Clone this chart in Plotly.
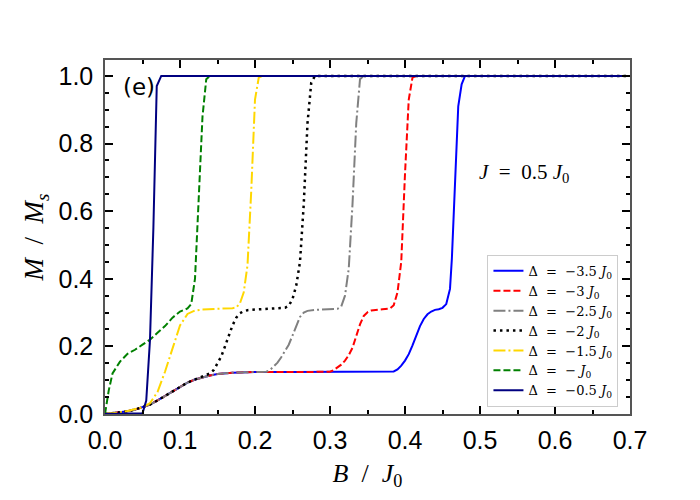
import plotly.graph_objects as go

# magnetisation curves M/Ms versus B/J0, one per anisotropy value (J = 0.5 J0)
b_m35 = [0, 0.01, 0.02, 0.03, 0.04, 0.05, 0.06, 0.07, 0.08, 0.09, 0.10, 0.11, 0.12,
         0.13, 0.14, 0.15, 0.16, 0.17, 0.18, 0.20, 0.25, 0.30, 0.35, 0.38, 0.385, 0.39,
         0.395, 0.40, 0.405, 0.41, 0.415, 0.42, 0.425, 0.43, 0.435, 0.44, 0.445, 0.45,
         0.455, 0.46, 0.4625, 0.467, 0.471, 0.4755, 0.48, 0.70]
m_m35 = [0, 0.002, 0.004, 0.008, 0.013, 0.020, 0.028, 0.040, 0.053, 0.067, 0.081, 0.093,
         0.102, 0.109, 0.114, 0.118, 0.121, 0.122, 0.123, 0.124, 0.124, 0.124, 0.124,
         0.124, 0.126, 0.132, 0.143, 0.158, 0.177, 0.203, 0.232, 0.260, 0.281, 0.295,
         0.303, 0.308, 0.310, 0.314, 0.325, 0.370, 0.460, 0.720, 0.910, 0.975, 1.0, 1.0]

b_m3 = [0, 0.01, 0.02, 0.03, 0.04, 0.05, 0.06, 0.07, 0.08, 0.09, 0.10, 0.11, 0.12, 0.13,
        0.14, 0.15, 0.16, 0.17, 0.18, 0.20, 0.25, 0.29, 0.30, 0.305, 0.31, 0.315, 0.32,
        0.325, 0.33, 0.335, 0.34, 0.345, 0.35, 0.355, 0.36, 0.37, 0.38, 0.385, 0.39,
        0.395, 0.40, 0.405, 0.41, 0.415, 0.70]
m_m3 = [0, 0.002, 0.004, 0.008, 0.013, 0.020, 0.028, 0.040, 0.053, 0.067, 0.081, 0.093,
        0.102, 0.109, 0.114, 0.118, 0.121, 0.122, 0.123, 0.124, 0.124, 0.124, 0.125,
        0.130, 0.137, 0.146, 0.158, 0.174, 0.196, 0.228, 0.265, 0.290, 0.301, 0.306,
        0.308, 0.310, 0.312, 0.322, 0.360, 0.450, 0.710, 0.930, 0.995, 1.0, 1.0]

b_m25 = [0, 0.01, 0.02, 0.03, 0.04, 0.05, 0.06, 0.07, 0.08, 0.09, 0.10, 0.11, 0.12, 0.13,
         0.14, 0.15, 0.16, 0.17, 0.18, 0.20, 0.21, 0.215, 0.22, 0.225, 0.23, 0.235, 0.24,
         0.245, 0.25, 0.255, 0.26, 0.265, 0.27, 0.28, 0.29, 0.30, 0.31, 0.315, 0.32,
         0.325, 0.33, 0.335, 0.34, 0.345, 0.70]
m_m25 = [0, 0.002, 0.004, 0.008, 0.013, 0.020, 0.028, 0.040, 0.053, 0.067, 0.081, 0.093,
         0.102, 0.109, 0.114, 0.118, 0.121, 0.122, 0.123, 0.124, 0.124, 0.125, 0.130,
         0.140, 0.152, 0.168, 0.186, 0.205, 0.232, 0.262, 0.287, 0.300, 0.305, 0.308,
         0.309, 0.310, 0.311, 0.318, 0.350, 0.430, 0.620, 0.860, 0.990, 1.0, 1.0]

b_m2 = [0, 0.01, 0.02, 0.03, 0.04, 0.05, 0.06, 0.07, 0.08, 0.09, 0.10, 0.11, 0.12, 0.13,
        0.14, 0.145, 0.15, 0.155, 0.16, 0.165, 0.17, 0.175, 0.18, 0.185, 0.19, 0.20,
        0.21, 0.22, 0.23, 0.24, 0.245, 0.25, 0.255, 0.26, 0.265, 0.27, 0.275, 0.28, 0.70]
m_m2 = [0, 0.002, 0.004, 0.008, 0.013, 0.020, 0.028, 0.040, 0.053, 0.067, 0.081, 0.093,
        0.102, 0.111, 0.120, 0.130, 0.148, 0.170, 0.200, 0.232, 0.262, 0.285, 0.298,
        0.304, 0.307, 0.309, 0.310, 0.310, 0.311, 0.314, 0.320, 0.340, 0.380, 0.450,
        0.620, 0.860, 0.980, 1.0, 1.0]

b_m15 = [0, 0.01, 0.02, 0.03, 0.04, 0.05, 0.06, 0.07, 0.08, 0.09, 0.10, 0.11, 0.12, 0.13,
         0.14, 0.15, 0.16, 0.17, 0.175, 0.18, 0.185, 0.19, 0.195, 0.20, 0.205, 0.21, 0.70]
m_m15 = [0, 0.002, 0.005, 0.009, 0.014, 0.020, 0.032, 0.065, 0.125, 0.195, 0.262, 0.296,
         0.306, 0.309, 0.310, 0.310, 0.311, 0.313, 0.315, 0.328, 0.360, 0.440, 0.660,
         0.930, 0.995, 1.0, 1.0]

b_m1 = [0, 0.005, 0.01, 0.02, 0.03, 0.04, 0.05, 0.06, 0.07, 0.08, 0.09, 0.10, 0.11, 0.115,
        0.12, 0.125, 0.13, 0.135, 0.14, 0.70]
m_m1 = [0, 0.070, 0.120, 0.155, 0.178, 0.190, 0.205, 0.220, 0.240, 0.260, 0.285, 0.303,
        0.312, 0.325, 0.400, 0.620, 0.880, 0.990, 1.0, 1.0]

b_m05 = [0, 0.04, 0.05, 0.055, 0.06, 0.0645, 0.069, 0.075, 0.70]
m_m05 = [0, 0.0, 0.002, 0.040, 0.220, 0.550, 0.970, 1.0, 1.0]

labels = ["−3.5", "−3", "−2.5", "−2", "−1.5", "−", "−0.5"]
colors = ["#0000ff", "#ff0000", "#808080", "#000000", "#ffd700", "#008000", "#000080"]
dashes = ["solid", "7px,3px", "12px,3px,2px,3px", "2.5px,4px", "12px,3px,2px,3px",
          "7px,3px", "solid"]
widths = [2, 2, 2, 2.5, 2, 2, 2]
xs = [b_m35, b_m3, b_m25, b_m2, b_m15, b_m1, b_m05]
ys = [m_m35, m_m3, m_m25, m_m2, m_m15, m_m1, m_m05]

fig = go.Figure()
for x, y, lab, c, d, w in zip(xs, ys, labels, colors, dashes, widths):
    fig.add_trace(go.Scatter(
        x=x, y=y, mode="lines",
        name="Δ  =  " + lab + " <i>J</i><sub>0</sub>",
        line=dict(color=c, dash=d, width=w),
    ))

fig.add_annotation(
    text="(e)", x=0.03, y=0.924, xref="paper", yref="paper",
    xanchor="left", yanchor="middle", showarrow=False,
    font=dict(family="DejaVu Sans", size=23, color="black"),
)
fig.add_annotation(
    text="<i>J</i>  =  0.5 <i>J</i><sub>0</sub>", x=0.708, y=0.68,
    xref="paper", yref="paper", xanchor="left", yanchor="middle", showarrow=False,
    font=dict(family="Liberation Serif", size=21, color="black"),
)

axis_style = dict(
    showline=True, linecolor="#555555", linewidth=1.5, mirror="allticks",
    ticks="inside", ticklen=8, tickwidth=1.5, tickcolor="black",
    showgrid=False, zeroline=False,
    tickfont=dict(family="Liberation Sans", size=25, color="black"),
)

fig.update_xaxes(
    range=[0, 0.7], dtick=0.1, tickformat=".1f",
    minor=dict(ticks="inside", dtick=0.05, ticklen=4, tickwidth=1.5, tickcolor="black"),
    title=dict(text="<i>B</i>  /  <i>J</i><sub>0</sub>", standoff=11,
               font=dict(family="Liberation Serif", size=26, color="black")),
    ticklabelstandoff=3,
    **axis_style,
)
fig.update_yaxes(
    range=[0, 1.047], dtick=0.2, tickformat=".1f",
    minor=dict(ticks="inside", dtick=0.05, ticklen=4, tickwidth=1.5, tickcolor="black"),
    title=dict(text="<i>M</i>\u2002/\u2002<i>M</i><sub><i>s</i></sub>", standoff=7,
               font=dict(family="Liberation Serif", size=27, color="black")),
    ticklabelstandoff=5,
    **axis_style,
)

# the page puts the figure 8px in from the top-left corner of the window
fig.update_layout(
    width=692, height=492,
    margin=dict(l=97, r=70, t=52, b=86),
    paper_bgcolor="white", plot_bgcolor="white",
    showlegend=True,
    legend=dict(
        x=0.978, y=0.02, xanchor="right", yanchor="bottom",
        bgcolor="rgba(255,255,255,0.8)", bordercolor="#cccccc", borderwidth=1,
        font=dict(family="DejaVu Serif", size=13, color="black"),
        itemwidth=30, tracegroupgap=0,
    ),
)

fig.write_html("out.html")
